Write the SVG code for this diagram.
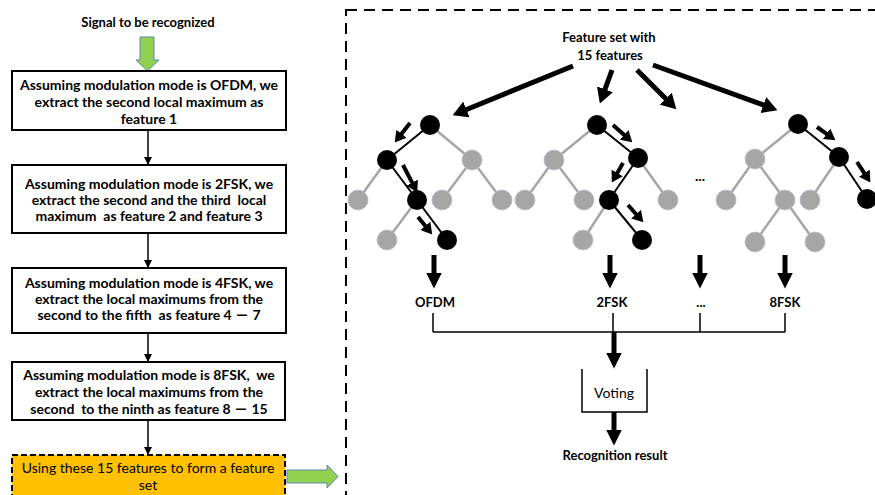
<svg xmlns="http://www.w3.org/2000/svg" width="875" height="495" viewBox="0 0 875 495">
<style>
  text { font-family: Lato, "Liberation Sans", "Noto Sans CJK SC", sans-serif; fill: #000; white-space: pre; }
  .b { font-weight: bold; }
  .t13 { font-size: 13px; }
  .t14 { font-size: 14px; }
  .box { fill: #fff; stroke: #000; stroke-width: 2; }
  .conn { stroke: #000; stroke-width: 1.5; fill: none; }
  .ge { stroke: #a6a6a6; stroke-width: 2.5; }
  .be { stroke: #000; stroke-width: 2; }
  .gn { fill: #a6a6a6; stroke: #b4bccc; stroke-width: 0.8; }
  .bn { fill: #000; }
  .big { stroke: #000; stroke-width: 5; marker-end: url(#hBig); }
  .sm { stroke: #000; stroke-width: 4; marker-end: url(#hSm); }
  .dn { stroke: #000; stroke-width: 5; marker-end: url(#hDn); }
</style>
<defs>
  <marker id="hBig" markerUnits="userSpaceOnUse" markerWidth="15" markerHeight="17" viewBox="0 0 15 17" refX="0.5" refY="8.5" orient="auto">
    <path d="M0,0 L15,8.5 L0,17 z" fill="#000"/>
  </marker>
  <marker id="hSm" markerUnits="userSpaceOnUse" markerWidth="11" markerHeight="13" viewBox="0 0 11 13" refX="0.5" refY="6.5" orient="auto">
    <path d="M0,0 L11,6.5 L0,13 z" fill="#000"/>
  </marker>
  <marker id="hDn" markerUnits="userSpaceOnUse" markerWidth="16" markerHeight="16" viewBox="0 0 16 16" refX="0.5" refY="8" orient="auto">
    <path d="M0,0 L16,8 L0,16 z" fill="#000"/>
  </marker>
  <marker id="hTiny" markerUnits="userSpaceOnUse" markerWidth="8" markerHeight="8" viewBox="0 0 8 8" refX="8" refY="4" orient="auto">
    <path d="M0,0 L8,4 L0,8 z" fill="#000"/>
  </marker>
</defs>

<!-- Left flow -->
<g id="signal">
  <text class="b t13" x="148" y="27" text-anchor="middle">Signal to be recognized</text>
  <polygon points="140,37 154,37 154,60 159,60 147.5,71 136,60 140,60" fill="#92d050" stroke="#5b87b0" stroke-width="1"/>
</g>
<g id="box1">
  <rect class="box" x="12" y="71" width="274" height="59"/>
  <text class="b t14" x="149" y="90" text-anchor="middle">Assuming modulation mode is OFDM, we</text>
  <text class="b t14" x="149" y="107" text-anchor="middle">extract the second local maximum as</text>
  <text class="b t14" x="149" y="124" text-anchor="middle">feature 1</text>
</g>
<g id="box2">
  <rect class="box" x="12" y="165" width="274" height="68"/>
  <text class="b t14" x="149" y="189" text-anchor="middle">Assuming modulation mode is 2FSK, we</text>
  <text class="b t14" x="149" y="205" text-anchor="middle">extract the second and the third  local</text>
  <text class="b t14" x="149" y="221" text-anchor="middle">maximum  as feature 2 and feature 3</text>
</g>
<g id="box3">
  <rect class="box" x="12" y="268" width="274" height="65"/>
  <text class="b t14" x="149" y="288" text-anchor="middle">Assuming modulation mode is 4FSK, we</text>
  <text class="b t14" x="149" y="304" text-anchor="middle">extract the local maximums from the</text>
  <text class="b t14" x="149" y="320" text-anchor="middle">second to the fifth  as feature 4 － 7</text>
</g>
<g id="box4">
  <rect class="box" x="12" y="362" width="273" height="58"/>
  <text class="b t14" x="149" y="380" text-anchor="middle">Assuming modulation mode is 8FSK,  we</text>
  <text class="b t14" x="149" y="397" text-anchor="middle">extract the local maximums from the</text>
  <text class="b t14" x="149" y="414" text-anchor="middle">second  to the ninth as feature 8 － 15</text>
</g>
<g id="box5">
  <rect x="12" y="455" width="273" height="60" fill="#ffc000" stroke="#000" stroke-width="2" stroke-dasharray="6 3"/>
  <text class="t14" x="148" y="473" text-anchor="middle">Using these 15 features to form a feature</text>
  <text class="t14" x="148" y="490" text-anchor="middle">set</text>
</g>
<g id="toRight">
  <polygon points="287,470 327,470 327,465 338,476.5 327,488 327,483 287,483" fill="#92d050" stroke="#5b87b0" stroke-width="1"/>
</g>

<!-- Right dashed panel -->
<g id="panel">
  <rect x="346" y="10" width="600" height="600" fill="none" stroke="#000" stroke-width="2" stroke-dasharray="11 7"/>
</g>

<g id="featureSet">
  <text class="b t13" x="609" y="42" text-anchor="middle">Feature set with</text>
  <text class="b t13" x="610" y="60" text-anchor="middle">15 features</text>
</g>

<g id="tree1">
  <line class="ge" x1="430" y1="125" x2="472" y2="160"/>
  <line class="ge" x1="387" y1="160" x2="358" y2="200"/>
  <line class="ge" x1="472" y1="160" x2="442" y2="200"/>
  <line class="ge" x1="472" y1="160" x2="502" y2="200"/>
  <line class="ge" x1="417" y1="200" x2="387" y2="240"/>
  <line class="be" x1="430" y1="125" x2="387" y2="160"/>
  <line class="be" x1="387" y1="160" x2="417" y2="200"/>
  <line class="be" x1="417" y1="200" x2="447" y2="240"/>
  <circle class="gn" cx="472" cy="160" r="10"/>
  <circle class="gn" cx="358" cy="200" r="10"/>
  <circle class="gn" cx="442" cy="200" r="10"/>
  <circle class="gn" cx="502" cy="200" r="10"/>
  <circle class="gn" cx="387" cy="240" r="10"/>
  <circle class="bn" cx="430" cy="125" r="10"/>
  <circle class="bn" cx="387" cy="160" r="10"/>
  <circle class="bn" cx="417" cy="200" r="10"/>
  <circle class="bn" cx="447" cy="240" r="10"/>
</g>
<g id="tree2">
  <line class="ge" x1="597" y1="125" x2="554" y2="160"/>
  <line class="ge" x1="554" y1="160" x2="525" y2="200"/>
  <line class="ge" x1="554" y1="160" x2="584" y2="200"/>
  <line class="ge" x1="638" y1="158" x2="668" y2="200"/>
  <line class="ge" x1="609" y1="200" x2="583" y2="240"/>
  <line class="be" x1="597" y1="125" x2="638" y2="158"/>
  <line class="be" x1="638" y1="158" x2="609" y2="200"/>
  <line class="be" x1="609" y1="200" x2="642" y2="240"/>
  <circle class="gn" cx="554" cy="160" r="10"/>
  <circle class="gn" cx="525" cy="200" r="10"/>
  <circle class="gn" cx="584" cy="200" r="10"/>
  <circle class="gn" cx="668" cy="200" r="10"/>
  <circle class="gn" cx="583" cy="240" r="10"/>
  <circle class="bn" cx="597" cy="125" r="10"/>
  <circle class="bn" cx="638" cy="158" r="10"/>
  <circle class="bn" cx="609" cy="200" r="10"/>
  <circle class="bn" cx="642" cy="240" r="10"/>
</g>
<g id="dotsMid">
  <text class="b t14" x="700" y="181" text-anchor="middle">...</text>
</g>
<g id="tree3">
  <line class="ge" x1="798" y1="124" x2="755" y2="159"/>
  <line class="ge" x1="755" y1="159" x2="726" y2="200"/>
  <line class="ge" x1="755" y1="159" x2="785" y2="200"/>
  <line class="ge" x1="839" y1="157" x2="810" y2="200"/>
  <line class="ge" x1="785" y1="200" x2="755" y2="242"/>
  <line class="ge" x1="785" y1="200" x2="815" y2="242"/>
  <line class="be" x1="798" y1="124" x2="839" y2="157"/>
  <line class="be" x1="839" y1="157" x2="867" y2="199"/>
  <circle class="gn" cx="755" cy="159" r="10"/>
  <circle class="gn" cx="726" cy="200" r="10"/>
  <circle class="gn" cx="785" cy="200" r="10"/>
  <circle class="gn" cx="810" cy="200" r="10"/>
  <circle class="gn" cx="755" cy="242" r="10"/>
  <circle class="gn" cx="815" cy="242" r="10"/>
  <circle class="bn" cx="798" cy="124" r="10"/>
  <circle class="bn" cx="839" cy="157" r="10"/>
  <circle class="bn" cx="867" cy="199" r="10"/>
</g>

<g id="labels">
  <text class="b t13" x="435" y="307" text-anchor="middle">OFDM</text>
  <text class="b t13" x="612" y="307" text-anchor="middle">2FSK</text>
  <text class="b t13" x="701" y="307" text-anchor="middle">...</text>
  <text class="b t13" x="785" y="307" text-anchor="middle">8FSK</text>
</g>
<g id="voting">
  <path class="conn" d="M582,369 V412 H647 V369"/>
  <text class="t14" x="614" y="398" text-anchor="middle">Voting</text>
</g>
<g id="result">
  <text class="b t13" x="615" y="460" text-anchor="middle">Recognition result</text>
</g>

<g id="connectors">
  <!-- left flow -->
  <line class="conn" x1="148" y1="130" x2="148" y2="165" marker-end="url(#hTiny)"/>
  <line class="conn" x1="148" y1="233" x2="148" y2="268" marker-end="url(#hTiny)"/>
  <line class="conn" x1="148" y1="333" x2="148" y2="362" marker-end="url(#hTiny)"/>
  <line class="conn" x1="148" y1="420" x2="148" y2="455" marker-end="url(#hTiny)"/>
  <!-- feature set to trees -->
  <line class="big" x1="573" y1="66" x2="466" y2="109.7"/>
  <line class="big" x1="612" y1="70" x2="604.8" y2="89.8"/>
  <line class="big" x1="637" y1="70" x2="666.1" y2="99.1"/>
  <line class="big" x1="653" y1="65" x2="763.8" y2="105.2"/>
  <!-- small path arrows -->
  <line class="sm" x1="410" y1="123" x2="401.2" y2="134.2"/>
  <line class="sm" x1="403" y1="165" x2="412.4" y2="183.1"/>
  <line class="sm" x1="418" y1="217" x2="425.6" y2="226.3"/>
  <line class="sm" x1="613" y1="125" x2="624.5" y2="135.3"/>
  <line class="sm" x1="623" y1="163" x2="617" y2="173.4"/>
  <line class="sm" x1="628" y1="205" x2="636.4" y2="214.5"/>
  <line class="sm" x1="817" y1="127" x2="826.9" y2="134.1"/>
  <line class="sm" x1="857" y1="162" x2="864.6" y2="173.6"/>
  <!-- down to labels -->
  <line class="dn" x1="434" y1="255" x2="434" y2="273"/>
  <line class="dn" x1="610" y1="255" x2="610" y2="273"/>
  <line class="dn" x1="700" y1="255" x2="700" y2="273"/>
  <line class="dn" x1="785" y1="255" x2="785" y2="273"/>
  <!-- bus -->
  <path class="conn" d="M433,313 V332 M613,313 V332 M700,313 V332 M785,313 V332 M433,332 H785"/>
  <line class="dn" x1="614" y1="332" x2="614" y2="353"/>
  <line class="dn" x1="614" y1="412" x2="614" y2="430"/>
</g>
</svg>
